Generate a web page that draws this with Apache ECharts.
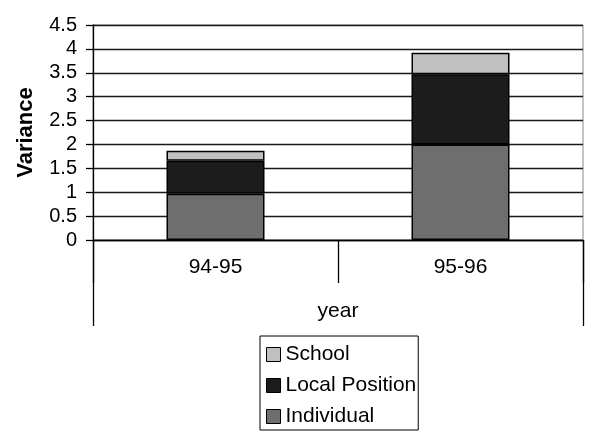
<!DOCTYPE html>
<html>
<head>
<meta charset="utf-8">
<script src="https://cdn.jsdelivr.net/npm/echarts@6/dist/echarts.min.js"></script>
<style>html,body{margin:0;padding:0;background:#fff}#c{width:600px;height:444px}</style>
</head>
<body>
<div id="c"></div>
<script>
var categories = ['94-95', '95-96'];
var individual = [0.97, 2.0];
var localPosition = [0.69, 1.47];
var school = [0.21, 0.45];
var legendOrder = ['School', 'Local Position', 'Individual'];

var FONT = '"Liberation Sans", Arial, sans-serif';
var chart = echarts.init(document.getElementById('c'));
function barSeries(name, data, color) {
  return {
    name: name, type: 'bar', stack: 'v', data: data, barWidth: '40%',
    xAxisIndex: 0,
    itemStyle: { color: color, borderColor: '#000', borderWidth: 1.5 },
    emphasis: { disabled: true }
  };
}
chart.setOption({
  animation: false,
  backgroundColor: '#fff',
  textStyle: { fontFamily: FONT },
  grid: { left: 93, right: 17, top: 25, bottom: 204, show: true, borderColor: '#888', borderWidth: 1, backgroundColor: 'transparent' },
  legend: {
    data: legendOrder, orient: 'vertical', left: 260, top: 336,
    icon: 'rect',
    itemWidth: 14, itemHeight: 14, itemGap: 10,
    padding: [8, 2, 3, 6],
    borderColor: '#000', borderWidth: 1,
    itemStyle: { borderColor: '#000', borderWidth: 1 },
    textStyle: { fontSize: 21, color: '#000', lineHeight: 20, fontFamily: FONT },
    selectedMode: false
  },
  xAxis: [{
    type: 'category', data: categories, position: 'bottom',
    axisLine: { lineStyle: { color: '#000', width: 1.3 } },
    axisTick: { show: true, length: 43, lineStyle: { color: '#000', width: 1.3 } },
    axisLabel: { fontSize: 21, color: '#000', margin: 17, fontFamily: FONT }
  }, {
    type: 'category', data: [''], position: 'bottom',
    name: 'year', nameLocation: 'middle', nameGap: 61,
    nameTextStyle: { fontSize: 21, color: '#000', fontFamily: FONT },
    axisLine: { show: false },
    axisTick: { show: true, length: 86, lineStyle: { color: '#000', width: 1.3 } },
    axisLabel: { show: false }
  }],
  yAxis: {
    type: 'value', min: 0, max: 4.5, interval: 0.5,
    name: 'Variance', nameLocation: 'middle', nameGap: 56,
    nameTextStyle: { fontSize: 22, fontWeight: 'bold', color: '#000', fontFamily: FONT },
    axisLine: { show: true, lineStyle: { color: '#000', width: 1.3 } },
    axisTick: { show: true, length: 7, lineStyle: { color: '#000', width: 1.3 } },
    axisLabel: { fontSize: 20, color: '#000', margin: 16, fontFamily: FONT },
    splitLine: { show: true, lineStyle: { color: '#1a1a1a', width: 1.3 } }
  },
  series: [
    barSeries('Individual', individual, '#6e6e6e'),
    barSeries('Local Position', localPosition, '#1c1c1c'),
    barSeries('School', school, '#c0c0c0')
  ]
});
</script>
</body>
</html>
